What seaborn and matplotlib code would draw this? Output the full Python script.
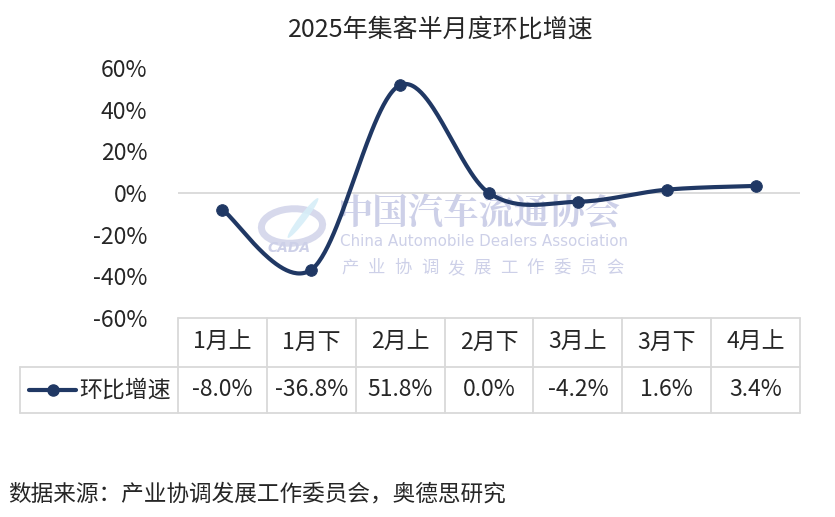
import numpy as np
import pandas as pd
import matplotlib
matplotlib.use("Agg")
import matplotlib.pyplot as plt
from matplotlib.lines import Line2D
from matplotlib.patches import Ellipse
import seaborn as sns

categories = ["1月上", "1月下", "2月上", "2月下", "3月上", "3月下", "4月上"]
values = [-8.0, -36.8, 51.8, 0.0, -4.2, 1.6, 3.4]
value_labels = ["-8.0%", "-36.8%", "51.8%", "0.0%", "-4.2%", "1.6%", "3.4%"]
yticks = [-60, -40, -20, 0, 20, 40, 60]
series_name = "环比增速"
title = "2025年集客半月度环比增速"
source = "数据来源：产业协调发展工作委员会，奥德思研究"

sns.set_theme(style="white")
plt.rcParams['font.family'] = ['Noto Sans CJK SC', 'DejaVu Sans']

W, H = 835, 517
fig = plt.figure(figsize=(W / 100, H / 100), dpi=100)
L, R, T, B = 178, 800, 68, 318
ax = fig.add_axes([L / W, 1 - B / H, (R - L) / W, (B - T) / H])
ax.patch.set_alpha(0)

NAVY = "#203864"
GRID = "#d9d9d9"

def fx(x):
    return x / W

def fy(y):
    return 1 - y / H

# Excel-like smoothed line (Bezier through points, Catmull-Rom control points)
xs = np.arange(len(values), dtype=float)
ys = np.array(values, dtype=float)
n = len(xs)
cx, cy = [], []
tt = np.linspace(0, 1, 60)
for i in range(n - 1):
    p0 = np.array([xs[max(i - 1, 0)], ys[max(i - 1, 0)]])
    p1 = np.array([xs[i], ys[i]])
    p2 = np.array([xs[i + 1], ys[i + 1]])
    p3 = np.array([xs[min(i + 2, n - 1)], ys[min(i + 2, n - 1)]])
    c1 = p1 + (p2 - p0) / 6
    c2 = p2 - (p3 - p1) / 6
    for t in tt:
        pt = (1 - t) ** 3 * p1 + 3 * (1 - t) ** 2 * t * c1 + 3 * (1 - t) * t ** 2 * c2 + t ** 3 * p2
        cx.append(pt[0]); cy.append(pt[1])
curve = pd.DataFrame({"x": cx, "y": cy})
pts = pd.DataFrame({"x": xs, "y": ys})

ax.axhline(0, color=GRID, lw=1.3, zorder=1)

# watermark
wm = "#cdd0e8"
ftr = fig.transFigure
ax.add_patch(Ellipse((fx(292), fy(226)), 62 / W, 34 / H, angle=20, transform=ftr,
                     fill=False, ec=wm, lw=5, alpha=0.8, zorder=0))
ax.add_patch(Ellipse((fx(303), fy(218)), 8 / W, 44 / H, angle=-25, transform=ftr,
                     fill=True, fc="#d6eef8", ec="none", alpha=0.9, zorder=0))
ax.text(fx(268), fy(248), "CADA", transform=ftr, fontsize=10, color=wm, style="italic",
        fontweight="bold", ha="left", va="center", family=['DejaVu Sans'], zorder=0)
ax.text(fx(338), fy(214), "中国汽车流通协会", transform=ftr, fontsize=25.5, color=wm,
        ha="left", va="center", fontweight="bold",
        family=['Noto Serif CJK SC', 'Noto Sans CJK SC'], zorder=0)
ax.text(fx(340), fy(242), "China Automobile Dealers Association", transform=ftr,
        fontsize=10.9, color=wm, ha="left", va="center", family=['DejaVu Sans'], zorder=0)
for j, ch in enumerate("产业协调发展工作委员会"):
    ax.text(fx(350 + j * 26.5), fy(268), ch, transform=ftr,
            fontsize=12.5, color=wm, ha="center", va="center", zorder=0)

sns.lineplot(data=curve, x="x", y="y", sort=False, color=NAVY, lw=3.0, ax=ax, zorder=3)
sns.scatterplot(data=pts, x="x", y="y", color=NAVY, s=70, edgecolor=NAVY, ax=ax, zorder=4)

ax.set_xlim(-0.5, n - 0.5)
ax.set_ylim(-60, 60)
ax.set_yticks(yticks)
ax.set_yticklabels([f"{v}%" for v in yticks], fontsize=16.5)
ax.set_xticks([])
ax.set_xlabel(""); ax.set_ylabel("")
ax.tick_params(axis="y", length=0, pad=22)
for s in ax.spines.values():
    s.set_visible(False)

fig.suptitle(title, x=441 / W, y=1 - 30 / H, va="center", fontsize=18)

def hline(x0, x1, y):
    fig.add_artist(Line2D([fx(x0), fx(x1)], [fy(y), fy(y)], color=GRID, lw=1.3))

def vline(x, y0, y1):
    fig.add_artist(Line2D([fx(x), fx(x)], [fy(y0), fy(y1)], color=GRID, lw=1.3))

colw = (R - L) / n
r0, r1, r2 = 318, 367, 413
hline(L, R, r0)
hline(20, R, r1)
hline(20, R, r2)
vline(20, r1, r2)
for k in range(n + 1):
    vline(L + k * colw, r0, r2)

for k in range(n):
    xc = L + (k + 0.5) * colw
    fig.text(fx(xc), fy((r0 + r1) / 2), categories[k], ha="center", va="center", fontsize=16.5)
    fig.text(fx(xc), fy((r1 + r2) / 2), value_labels[k], ha="center", va="center", fontsize=16.5)

ym = (r1 + r2) / 2
fig.add_artist(Line2D([fx(29), fx(76)], [fy(ym), fy(ym)], color=NAVY, lw=3.0))
fig.add_artist(Line2D([fx(52.5)], [fy(ym)], color=NAVY, marker="o", markersize=8, lw=0))
fig.text(fx(79), fy(ym), series_name, ha="left", va="center", fontsize=16.5)

fig.text(fx(8), fy(494), source, ha="left", va="center", fontsize=16.3)

fig.savefig("out.png", dpi=100)
